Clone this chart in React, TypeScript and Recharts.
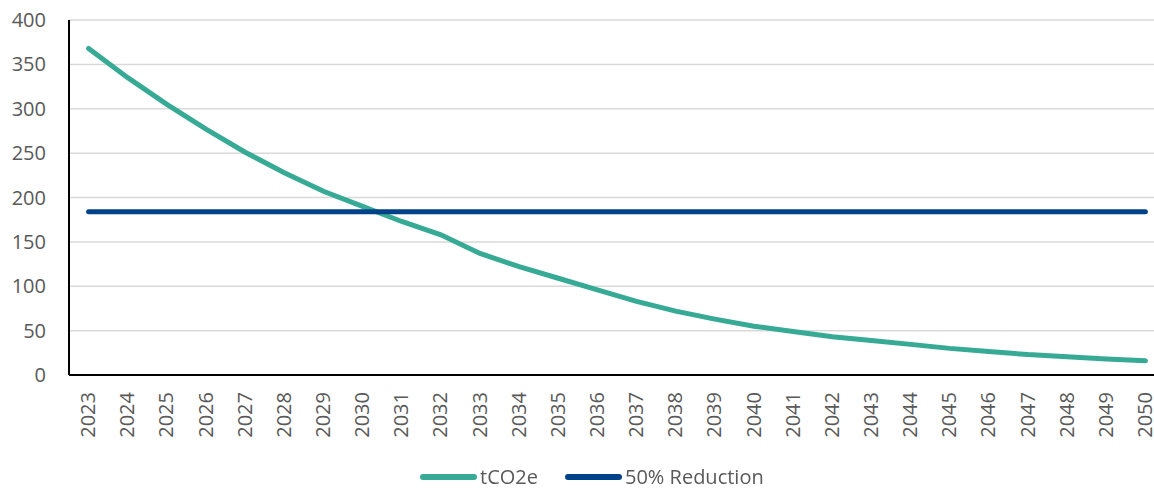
import React from 'react';
import { LineChart, Line, XAxis, YAxis, CartesianGrid, Legend } from 'recharts';

const years = [
  '2023', '2024', '2025', '2026', '2027', '2028', '2029', '2030', '2031', '2032',
  '2033', '2034', '2035', '2036', '2037', '2038', '2039', '2040', '2041', '2042',
  '2043', '2044', '2045', '2046', '2047', '2048', '2049', '2050',
];

const emissions = [
  368, 335, 305, 277, 251, 228, 207, 190, 173, 158,
  137, 122, 109, 96, 83, 72, 63, 55, 49, 43,
  39, 34.5, 30, 26.5, 23, 20.5, 18, 16,
];

const reduction = [
  184, 184, 184, 184, 184, 184, 184, 184, 184, 184,
  184, 184, 184, 184, 184, 184, 184, 184, 184, 184,
  184, 184, 184, 184, 184, 184, 184, 184,
];

const yTicks = [0, 50, 100, 150, 200, 250, 300, 350, 400];

const TEAL = '#36aa94';
const NAVY = '#004289';
const FONT = '"Open Sans", sans-serif';
const GREY = '#595959';

const data = years.map((year, i) => ({
  year,
  tCO2e: emissions[i],
  reduction: reduction[i],
}));

function YearTick(props: any) {
  const { x, y, payload } = props;
  return (
    <text
      x={x}
      y={y + 9}
      transform={`rotate(-90, ${x}, ${y + 9})`}
      textAnchor="end"
      dy="0.33em"
      fill={GREY}
      fontSize={20}
      fontFamily={FONT}
    >
      {payload.value}
    </text>
  );
}

function ChartLegend() {
  const items = [
    { label: 'tCO2e', color: TEAL },
    { label: '50% Reduction', color: NAVY },
  ];
  return (
    <div
      style={{
        height: 20,
        display: 'flex',
        paddingLeft: 420,
        fontFamily: FONT,
        fontSize: 20,
        color: GREY,
        lineHeight: '20px',
      }}
    >
      {items.map((it, i) => (
        <div key={it.label} style={{ display: 'flex', alignItems: 'center', marginRight: i === 0 ? 27 : 0 }}>
          <span
            style={{
              display: 'inline-block',
              width: 57,
              height: 6,
              borderRadius: 3,
              background: it.color,
              marginRight: 3,
            }}
          />
          <span>{it.label}</span>
        </div>
      ))}
    </div>
  );
}

export default function App() {
  return (
    <div style={{ position: 'fixed', left: 0, top: 0, width: 1154, height: 488, background: '#fff' }}>
      <LineChart width={1154} height={488} data={data} margin={{ top: 20, right: 0, left: 0, bottom: 0 }}>
        <CartesianGrid vertical={false} stroke="#d9d9d9" strokeWidth={1.5} />
        <XAxis
          dataKey="year"
          interval={0}
          height={93}
          padding={{ left: 19.6, right: 8.6 }}
          tick={<YearTick />}
          tickLine={false}
          axisLine={{ stroke: '#000', strokeWidth: 2 }}
        />
        <YAxis
          width={69}
          domain={[0, 400]}
          ticks={yTicks}
          tickSize={0}
          tickMargin={23}
          tickLine={false}
          axisLine={{ stroke: '#000', strokeWidth: 2 }}
          tick={{ fill: GREY, fontSize: 20, fontFamily: FONT }}
        />
        <Legend
          verticalAlign="bottom"
          wrapperStyle={{ left: 0, top: 467, width: 1154 }}
          content={() => <ChartLegend />}
        />
        <Line
          type="linear"
          dataKey="tCO2e"
          stroke={TEAL}
          strokeWidth={5}
          strokeLinecap="round"
          dot={false}
          isAnimationActive={false}
        />
        <Line
          type="linear"
          dataKey="reduction"
          stroke={NAVY}
          strokeWidth={5}
          strokeLinecap="round"
          dot={false}
          isAnimationActive={false}
        />
      </LineChart>
    </div>
  );
}
